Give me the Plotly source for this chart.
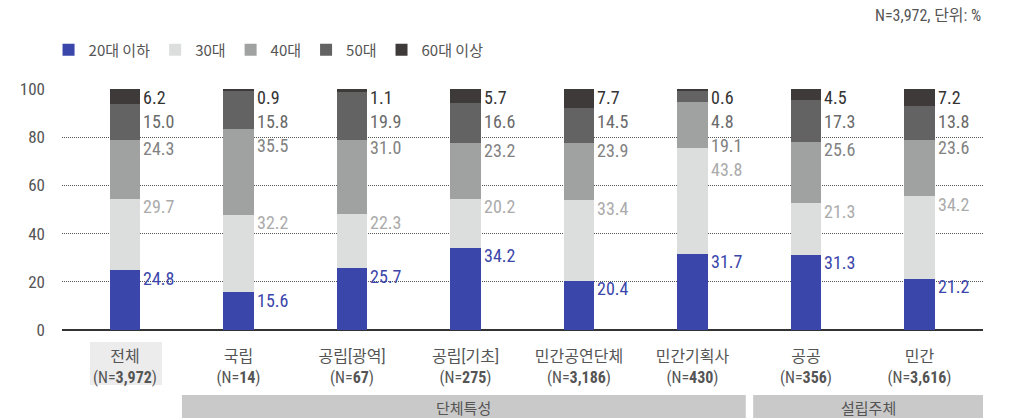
import plotly.graph_objects as go

# Categories and sample sizes
categories = ["전체", "국립", "공립[광역]", "공립[기초]", "민간공연단체", "민간기획사", "공공", "민간"]
sample_n = ["3,972", "14", "67", "275", "3,186", "430", "356", "3,616"]

# Age-group shares (%)
age_20s_under = [24.8, 15.6, 25.7, 34.2, 20.4, 31.7, 31.3, 21.2]
age_30s = [29.7, 32.2, 22.3, 20.2, 33.4, 43.8, 21.3, 34.2]
age_40s = [24.3, 35.5, 31.0, 23.2, 23.9, 19.1, 25.6, 23.6]
age_50s = [15.0, 15.8, 19.9, 16.6, 14.5, 4.8, 17.3, 13.8]
age_60s_over = [6.2, 0.9, 1.1, 5.7, 7.7, 0.6, 4.5, 7.2]

series_names = ["20대 이하", "30대", "40대", "50대", "60대 이상"]
series_values = [age_20s_under, age_30s, age_40s, age_50s, age_60s_over]
bar_colors = ["#3B46AA", "#DCDEDD", "#A0A2A1", "#636363", "#3E3A3A"]
label_colors = ["#3B46AA", "#ABABAB", "#828282", "#6A6A6A", "#333333"]

group_names = ["단체특성", "설립주체"]

NUM_FONT = "Roboto Condensed, Noto Sans CJK KR, sans-serif"
KR_FONT = "Noto Sans CJK KR, sans-serif"

W, H = 1017, 418
M_L, M_R, M_T, M_B = 62, 34, 89, 88
plot_h = H - M_T - M_B
px_per_unit = plot_h / 100.0
bar_width = 0.27
x_range = [-0.555, 7.56]
x_unit_px = (W - M_L - M_R) / (x_range[1] - x_range[0])

fig = go.Figure()
x_idx = list(range(len(categories)))
for name, vals, color in zip(series_names, series_values, bar_colors):
    fig.add_trace(go.Bar(
        x=x_idx, y=vals, name=name, width=bar_width,
        marker=dict(color=color, line=dict(width=0)),
        hoverinfo="skip",
    ))

# Value labels to the right of each bar, pushed down so they never collide
annotations = []
for i in x_idx:
    tops = []
    acc = 0.0
    for vals in series_values:
        acc += vals[i]
        tops.append(acc)
    prev_center = None
    for k in reversed(range(len(series_values))):
        top_px = (100 - tops[k]) * px_per_unit
        center = top_px + 8
        if prev_center is not None:
            center = max(center, prev_center + 24)
        prev_center = center
        annotations.append(dict(
            x=i, y=100 - center / px_per_unit, xref="x", yref="y",
            text=f"{series_values[k][i]:.1f}", showarrow=False,
            xanchor="left", yanchor="middle",
            xshift=bar_width / 2 * x_unit_px + 1,
            font=dict(family=NUM_FONT, size=18, color=label_colors[k]),
        ))

def py(px):
    # pixel row -> paper y
    return (H - M_B - px) / plot_h

# Group captions under the category labels
annotations.append(dict(x=(0.502 + 5.47) / 2, y=py(407), xref="x", yref="paper",
                        text=group_names[0], showarrow=False, yanchor="middle",
                        font=dict(family=KR_FONT, size=15, color="#555555")))
annotations.append(dict(x=(5.535 + 7.56) / 2, y=py(407), xref="x", yref="paper",
                        text=group_names[1], showarrow=False, yanchor="middle",
                        font=dict(family=KR_FONT, size=15, color="#555555")))
annotations.append(dict(x=1, y=py(16), xref="paper", yref="paper",
                        text="N=3,972, 단위: %", showarrow=False,
                        xanchor="right", yanchor="middle",
                        font=dict(family=NUM_FONT, size=16, color="#555555")))

shapes = [
    dict(type="rect", xref="x", yref="paper", x0=-0.308, x1=0.326, y0=py(385), y1=py(342),
         fillcolor="#ECECEC", line=dict(width=0), layer="below"),
    dict(type="rect", xref="x", yref="paper", x0=0.502, x1=5.47, y0=py(418), y1=py(395),
         fillcolor="#C9C9C9", line=dict(width=0), layer="below"),
    dict(type="rect", xref="x", yref="paper", x0=5.535, x1=7.56, y0=py(418), y1=py(395),
         fillcolor="#C9C9C9", line=dict(width=0), layer="below"),
]

tick_text = [f"{c}<br>(N=<b>{n}</b>)" for c, n in zip(categories, sample_n)]

fig.update_layout(
    width=W, height=H,
    margin=dict(l=M_L, r=M_R, t=M_T, b=M_B),
    barmode="stack",
    bargap=0,
    paper_bgcolor="white", plot_bgcolor="white",
    font=dict(family=KR_FONT, size=15, color="#555555"),
    showlegend=True,
    legend=dict(orientation="h", x=-0.0146, y=py(50), xanchor="left", yanchor="middle",
                font=dict(family=KR_FONT, size=15, color="#555555"),
                traceorder="normal", itemclick=False, itemdoubleclick=False),
    xaxis=dict(range=x_range, tickmode="array", tickvals=x_idx, ticktext=tick_text,
               showgrid=False, zeroline=False, showline=False, ticks="",
               ticklabelstandoff=15,
               tickfont=dict(family=NUM_FONT, size=16, color="#555555")),
    yaxis=dict(range=[0, 100], tickvals=[0, 20, 40, 60, 80, 100],
               showgrid=True, gridcolor="#555555", griddash="1px,1px", gridwidth=1,
               zeroline=True, zerolinecolor="#333333", zerolinewidth=1.5,
               showline=False, ticks="", ticklabelstandoff=16,
               tickfont=dict(family=NUM_FONT, size=17, color="#555555")),
    annotations=annotations,
    shapes=shapes,
)

fig.write_html("out.html")
